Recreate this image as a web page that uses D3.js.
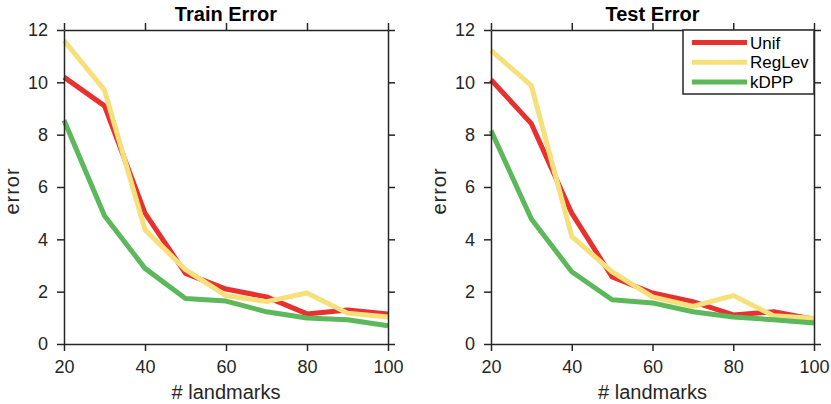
<!DOCTYPE html>
<html>
<head>
<meta charset="utf-8">
<script src="https://cdn.jsdelivr.net/npm/d3@7"></script>
<style>
  body { margin: 0; background: #fff; }
  svg { display: block; font-family: "Liberation Sans", Arial, sans-serif; }
</style>
</head>
<body>
<div id="chart"></div>
<script>
const landmarks = [20, 30, 40, 50, 60, 70, 80, 90, 100];
const xTicks = [20, 40, 60, 80, 100];
const yTicks = [0, 2, 4, 6, 8, 10, 12];
const seriesNames = ["Unif", "RegLev", "kDPP"];
const seriesColors = ["#e8302e", "#f5e07b", "#5cb85a"];

// train error, per method
const trainUnif = [10.2, 9.1, 5.0, 2.7, 2.1, 1.8, 1.15, 1.3, 1.15];
const trainRegLev = [11.6, 9.7, 4.37, 2.84, 1.85, 1.62, 1.95, 1.18, 1.03];
const trainKDPP = [8.55, 4.9, 2.89, 1.74, 1.64, 1.23, 0.99, 0.93, 0.7];

// test error, per method
const testUnif = [10.1, 8.42, 5.0, 2.56, 1.95, 1.62, 1.11, 1.23, 0.95];
const testRegLev = [11.22, 9.87, 4.11, 2.76, 1.8, 1.44, 1.85, 1.08, 0.98];
const testKDPP = [8.16, 4.78, 2.76, 1.69, 1.57, 1.23, 1.03, 0.93, 0.8];

const W = 831, H = 404;
const svg = d3.select("#chart").append("svg")
  .attr("width", W)
  .attr("height", H);

const axisColor = "#262626";

function drawPanel(left, right, title, series, withLegend) {
  const top = 30, bottom = 344;
  const x = d3.scaleLinear().domain([20, 100]).range([left, right]);
  const y = d3.scaleLinear().domain([0, 12]).range([bottom, top]);

  const g = svg.append("g");

  // data lines
  const line = d3.line()
    .x((d, i) => x(landmarks[i]))
    .y(d => y(d));

  series.forEach((vals, k) => {
    g.append("path")
      .datum(vals)
      .attr("d", line)
      .attr("fill", "none")
      .attr("stroke", seriesColors[k])
      .attr("stroke-width", 5)
      .attr("stroke-linejoin", "round");
  });

  // box axes, ticks pointing out
  const axes = [
    [d3.axisBottom(x).tickValues(xTicks), `translate(0,${bottom})`],
    [d3.axisTop(x).tickValues(xTicks).tickFormat(""), `translate(0,${top})`],
    [d3.axisLeft(y).tickValues(yTicks), `translate(${left},0)`],
    [d3.axisRight(y).tickValues(yTicks).tickFormat(""), `translate(${right},0)`]
  ];
  axes.forEach(([ax, tr]) => {
    const a = g.append("g")
      .attr("transform", tr)
      .call(ax.tickSizeInner(7).tickSizeOuter(0).tickPadding(9));
    a.select(".domain").attr("stroke", axisColor).attr("stroke-width", 1.5);
    a.selectAll(".tick line").attr("stroke", axisColor).attr("stroke-width", 1.5);
    a.selectAll(".tick text")
      .attr("fill", "#262626")
      .style("font-size", "18px")
      .style("font-family", "'Liberation Sans', Arial, sans-serif");
  });

  // title
  g.append("text")
    .attr("x", (left + right) / 2)
    .attr("y", 21)
    .attr("text-anchor", "middle")
    .style("font-size", "20px")
    .style("font-weight", "bold")
    .attr("fill", "#000")
    .text(title);

  // x label
  g.append("text")
    .attr("x", (left + right) / 2)
    .attr("y", 399)
    .attr("text-anchor", "middle")
    .style("font-size", "20px")
    .attr("fill", "#262626")
    .text("# landmarks");

  // y label
  g.append("text")
    .attr("transform", `translate(${left - 45.5},${(top + bottom) / 2 + 4}) rotate(-90)`)
    .attr("text-anchor", "middle")
    .style("font-size", "20px")
    .style("letter-spacing", "1px")
    .attr("fill", "#262626")
    .text("error");

  if (withLegend) {
    const lx = 683, ly = top, lw = right - 683, lh = 64;
    const leg = g.append("g");
    leg.append("rect")
      .attr("x", lx).attr("y", ly)
      .attr("width", lw).attr("height", lh)
      .attr("fill", "#fff")
      .attr("stroke", axisColor)
      .attr("stroke-width", 1.5);
    seriesNames.forEach((name, k) => {
      const cy = 42.5 + k * 19.7;
      leg.append("line")
        .attr("x1", 692).attr("x2", 747)
        .attr("y1", cy).attr("y2", cy)
        .attr("stroke", seriesColors[k])
        .attr("stroke-width", 5);
      leg.append("text")
        .attr("x", 750)
        .attr("y", cy + 6)
        .style("font-size", "17px")
        .attr("fill", "#000")
        .text(name);
    });
  }
}

drawPanel(64, 388, "Train Error", [trainUnif, trainRegLev, trainKDPP], false);
drawPanel(491, 814, "Test Error", [testUnif, testRegLev, testKDPP], true);
</script>
</body>
</html>
